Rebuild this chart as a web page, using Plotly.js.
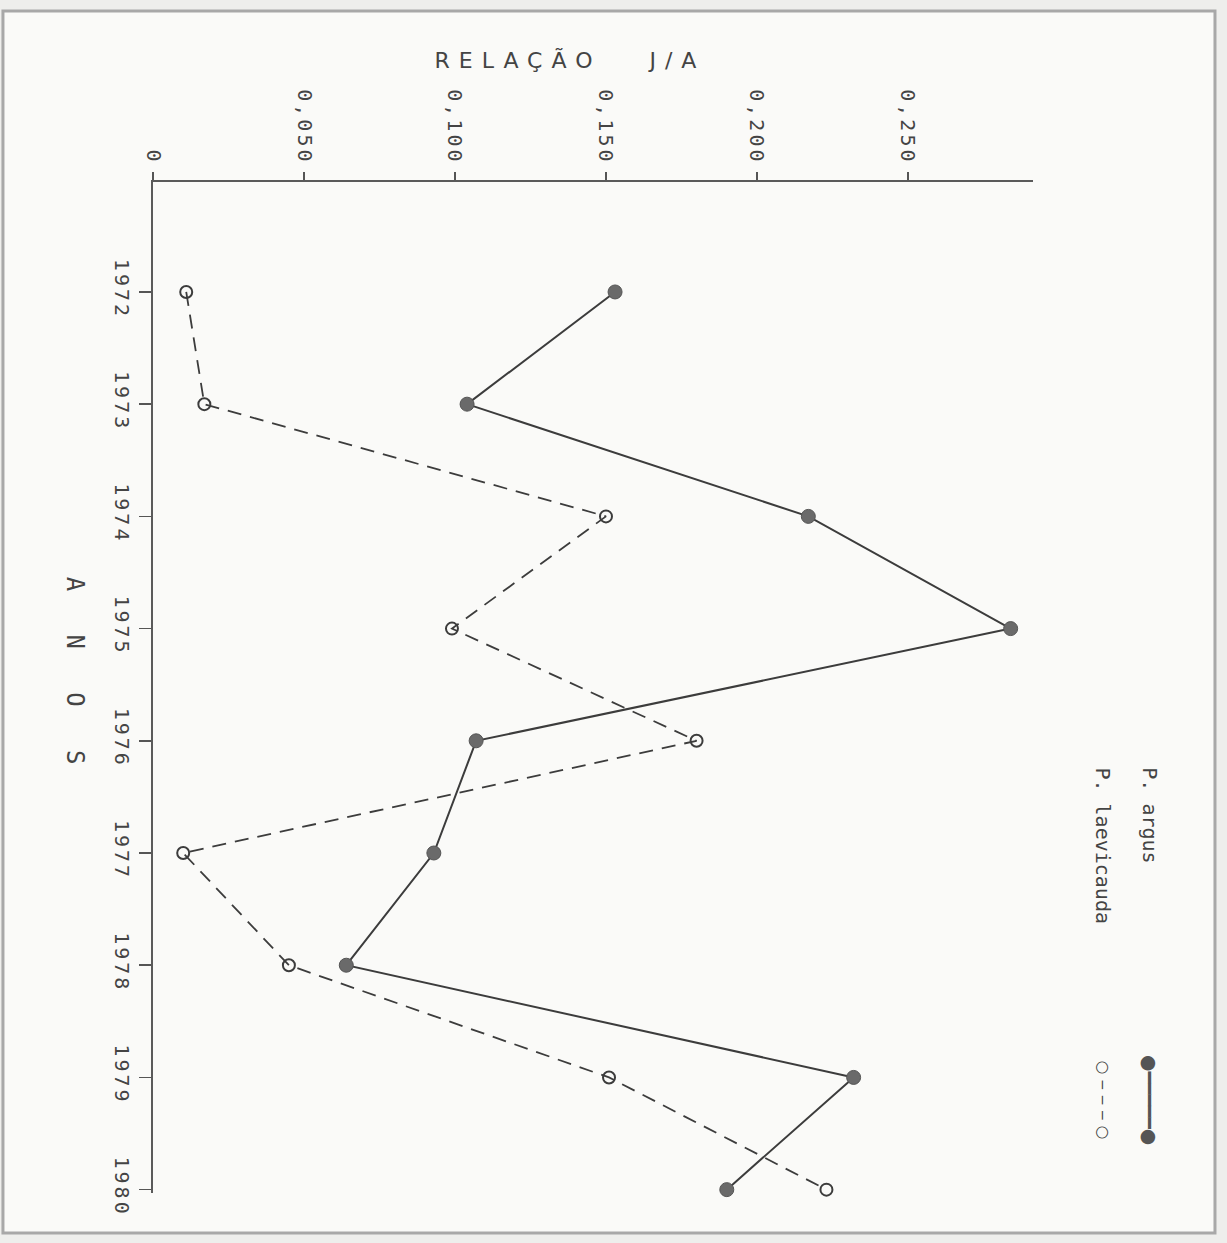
<!DOCTYPE html>
<html>
<head>
<meta charset="utf-8">
<script src="https://cdn.plot.ly/plotly-3.0.1.min.js"></script>
<style>
html,body{margin:0;padding:0;background:#eeeeec;}
#chart{width:1227px;height:1243px;}
.xtick text{letter-spacing:3px;}
.ytick text{letter-spacing:3px;}
g.annotation[data-index="0"] text{letter-spacing:9px;}
</style>
</head>
<body>
<div id="chart"></div>
<script>
const years = [1972, 1973, 1974, 1975, 1976, 1977, 1978, 1979, 1980];
const argus = [0.153, 0.104, 0.217, 0.284, 0.107, 0.093, 0.064, 0.232, 0.190];
const laevicauda = [0.011, 0.017, 0.150, 0.099, 0.180, 0.010, 0.045, 0.151, 0.223];
const valueTicks = [0, 0.05, 0.10, 0.15, 0.20, 0.25];
const valueTickText = ['0', '0,050', '0,100', '0,150', '0,200', '0,250'];
const yearTickText = ['1972', '1973', '1974', '1975', '1976', '1977', '1978', '1979', '1980'];
const names = ['P. argus', 'P. laevicauda'];
const axisTitle = 'RELAÇÃO   J/A';
const yearTitle = 'A   N   O   S';

const ink = '#3c3c3c';
const monoFont = 'DejaVu Sans Mono, monospace';

const data = [
  {
    x: argus, y: years, type: 'scatter', mode: 'lines+markers', name: names[0],
    line: {color: ink, width: 2, dash: 'solid'},
    marker: {symbol: 'circle', size: 14, color: '#6a6a6a', line: {color: '#555', width: 1}},
    cliponaxis: false
  },
  {
    x: laevicauda, y: years, type: 'scatter', mode: 'lines+markers', name: names[1],
    line: {color: ink, width: 1.8, dash: '14px,9px'},
    marker: {symbol: 'circle-open', size: 12, color: ink, line: {color: ink, width: 2}},
    cliponaxis: false
  }
];

const layout = {
  width: 1227, height: 1243,
  paper_bgcolor: '#eeeeec', plot_bgcolor: 'rgba(0,0,0,0)',
  margin: {l: 153, r: 194, t: 182, b: 50},
  showlegend: false,
  xaxis: {
    side: 'top', range: [0, 0.2914], showgrid: false, zeroline: false,
    showline: true, linecolor: '#5a5a5a', linewidth: 2.5,
    ticks: 'outside', ticklen: 8, tickwidth: 1.6, tickcolor: '#555',
    tickvals: valueTicks, ticktext: valueTickText, tickangle: 90,
    tickfont: {family: monoFont, size: 20, color: '#444'}
  },
  yaxis: {
    range: [1980.03, 1971.02], showgrid: false, zeroline: false,
    showline: true, linecolor: '#5a5a5a', linewidth: 2.5,
    ticks: 'outside', ticklen: 12, tickwidth: 1.6, tickcolor: '#555',
    tickvals: years, ticktext: yearTickText, tickangle: 90,
    tickfont: {family: monoFont, size: 20, color: '#444'}
  },
  annotations: [
    {text: axisTitle, xref: 'paper', yref: 'paper', x: 0.474, y: 1.1207, yanchor: 'middle',
     showarrow: false, font: {family: 'DejaVu Sans, sans-serif', size: 22, color: '#444'}},
    {text: yearTitle, textangle: 90, xref: 'paper', yref: 'paper', x: -0.089, y: 0.517,
     xanchor: 'center', yanchor: 'middle',
     showarrow: false, font: {family: monoFont, size: 24, color: '#444'}},
    {text: names[0], textangle: 90, xref: 'paper', yref: 'paper', x: 1.133, y: 0.423,
     xanchor: 'center', yanchor: 'top',
     showarrow: false, font: {family: monoFont, size: 20, color: '#444'}},
    {text: names[1], textangle: 90, xref: 'paper', yref: 'paper', x: 1.080, y: 0.423,
     xanchor: 'center', yanchor: 'top',
     showarrow: false, font: {family: monoFont, size: 20, color: '#444'}},
    {text: '●━━━━━●', textangle: 90, xref: 'paper', yref: 'paper', x: 1.133, y: 0.092,
     xanchor: 'center', yanchor: 'middle',
     showarrow: false, font: {family: 'DejaVu Sans, sans-serif', size: 19, color: '#555'}},
    {text: '○ ‒ ‒ ‒ ○', textangle: 90, xref: 'paper', yref: 'paper', x: 1.080, y: 0.092,
     xanchor: 'center', yanchor: 'middle',
     showarrow: false, font: {family: 'DejaVu Sans, sans-serif', size: 16, color: '#444'}}
  ],
  shapes: [
    {type: 'rect', xref: 'paper', yref: 'paper', x0: -0.1705, x1: 1.2068, y0: -0.0396, y1: 1.1691,
     fillcolor: '#fafaf8', layer: 'below', line: {color: '#a8a8a8', width: 3}}
  ]
};

Plotly.newPlot('chart', data, layout, {displayModeBar: false, staticPlot: true});
</script>
</body>
</html>
